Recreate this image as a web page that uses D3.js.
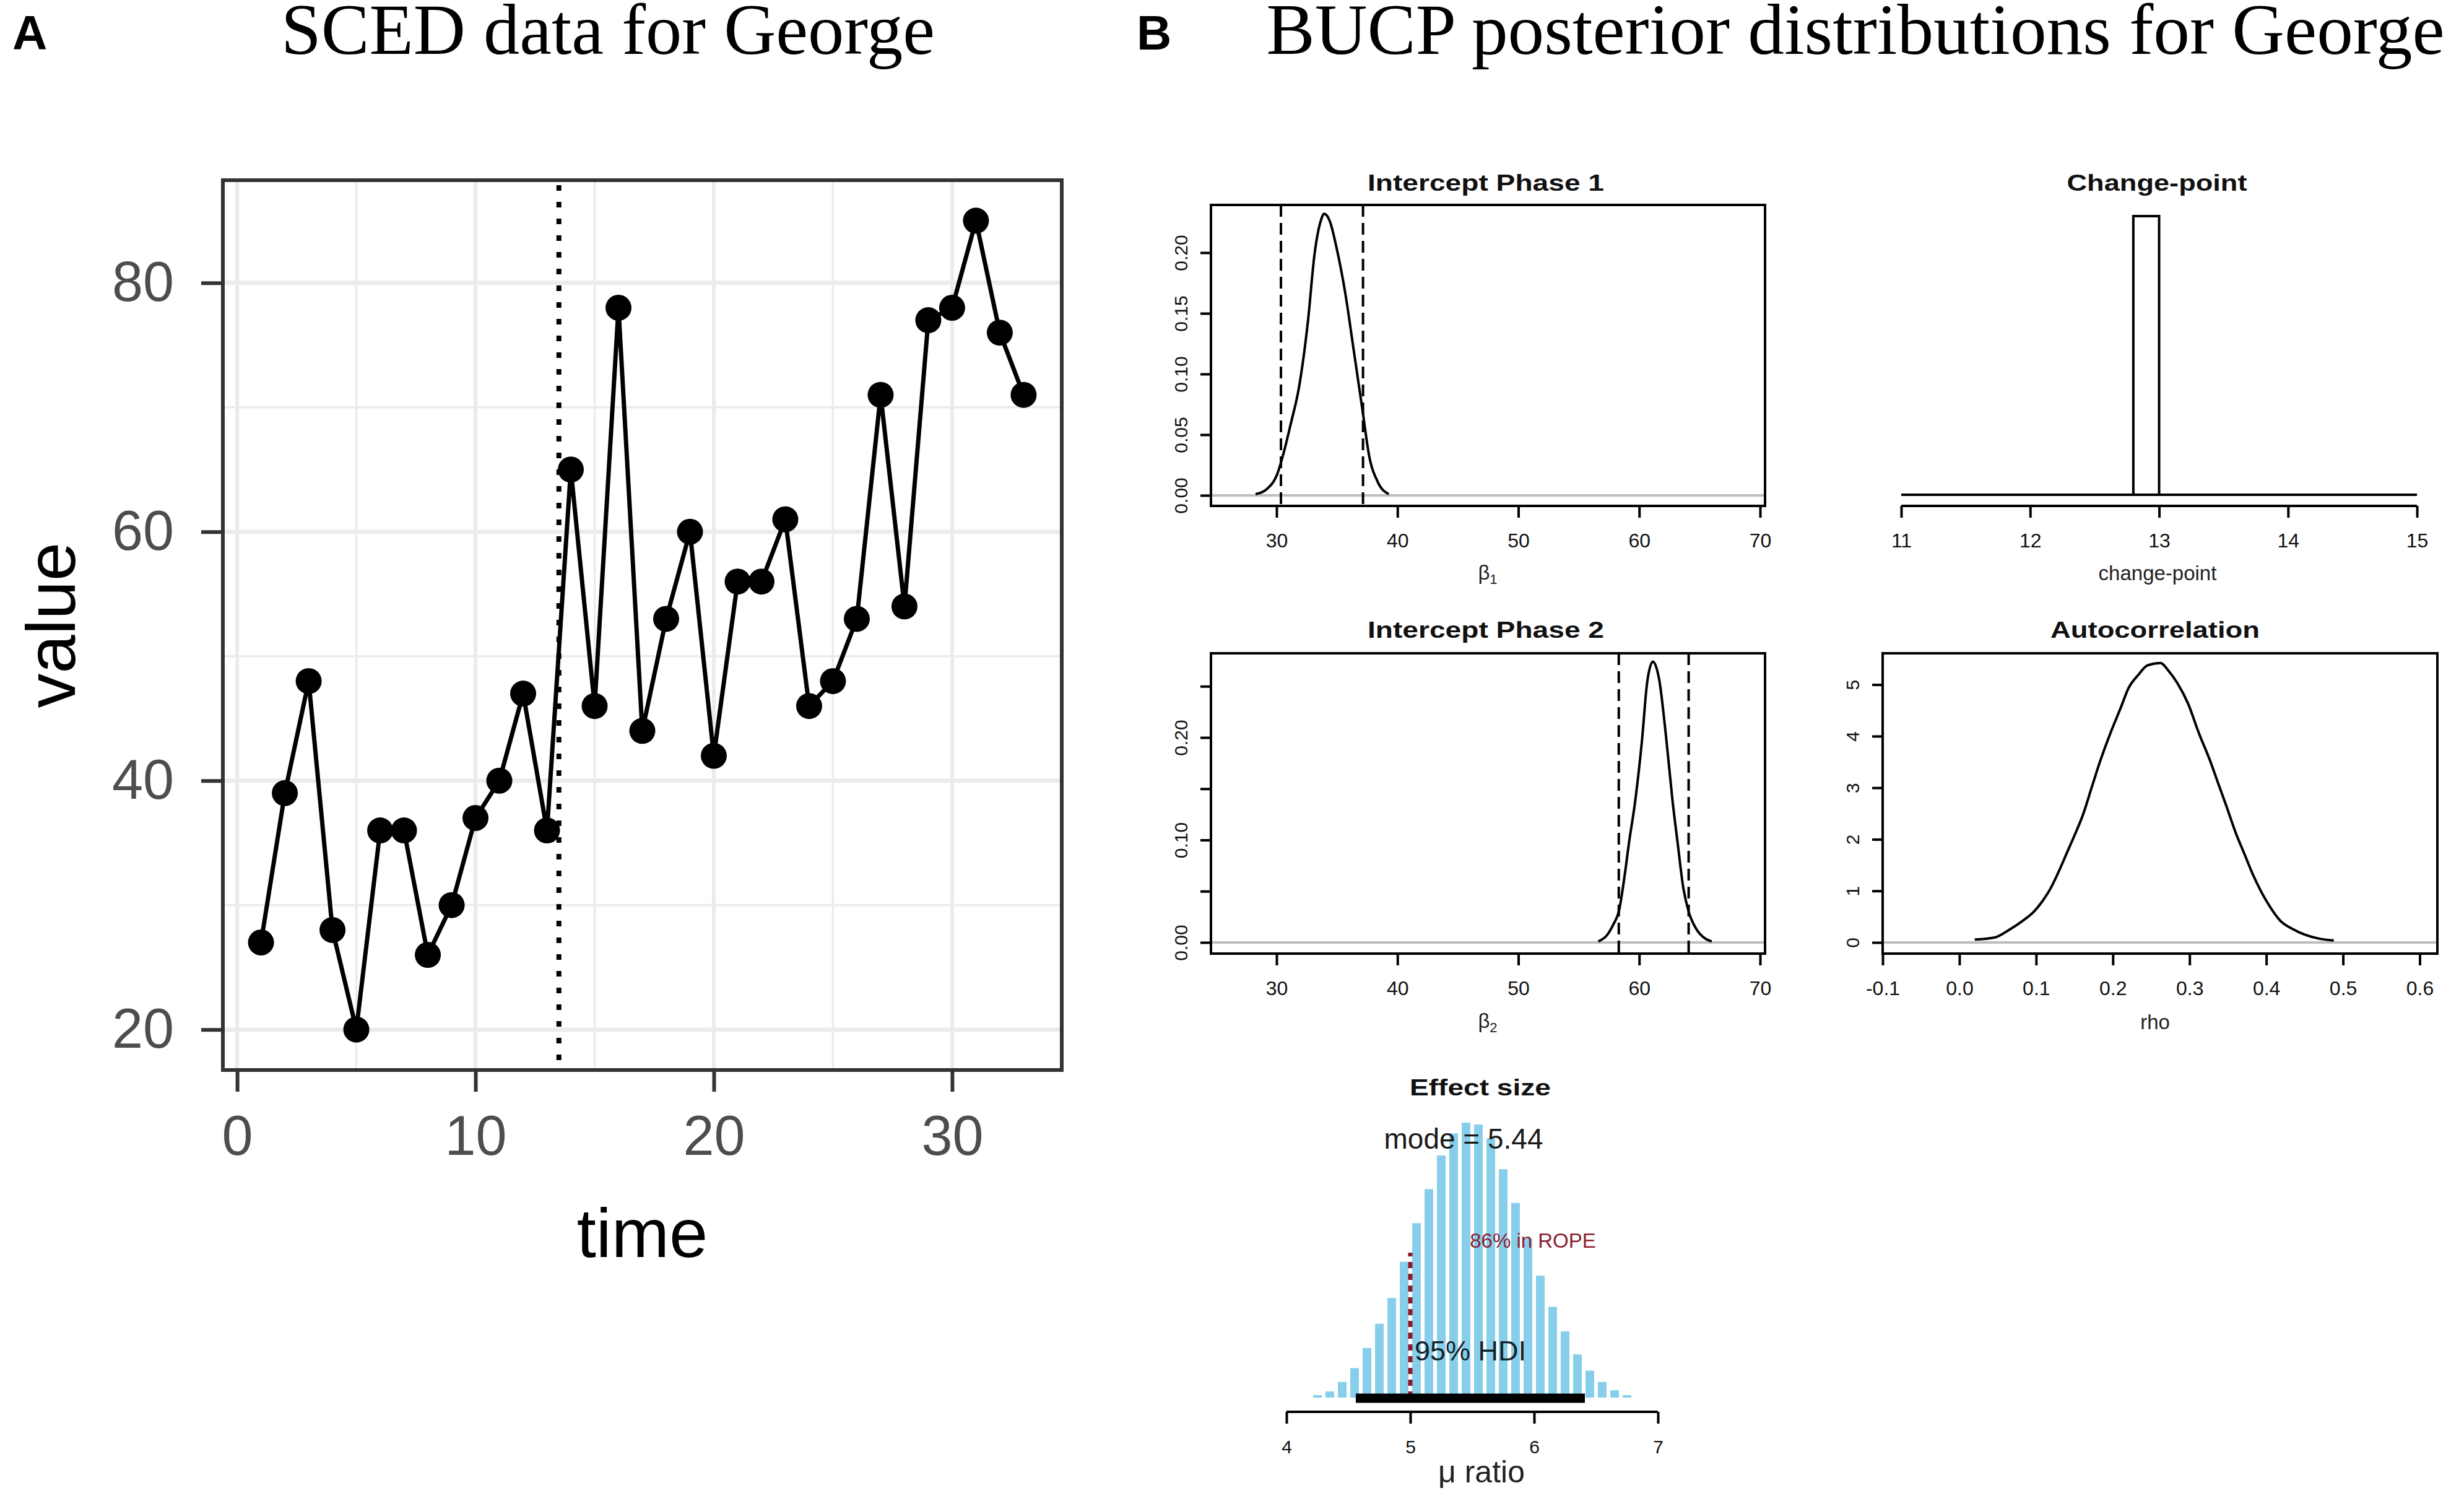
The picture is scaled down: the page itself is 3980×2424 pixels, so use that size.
<!DOCTYPE html>
<html>
<head>
<meta charset="utf-8">
<script src="https://cdn.jsdelivr.net/npm/d3@7"></script>
<style>
  html, body { margin: 0; padding: 0; background: #fff; }
  svg { display: block; }
</style>
</head>
<body>
<svg id="chart"></svg>
<script>
const width = 3980;
const height = 2424;

// ---- panel A: raw SCED series ----
const sessionTime = [1, 2, 3, 4, 5, 6, 7, 8, 9, 10, 11, 12, 13, 14, 15, 16, 17,
  18, 19, 20, 21, 22, 23, 24, 25, 26, 27, 28, 29, 30, 31, 32, 33];
const sessionValue = [27, 39, 48, 28, 20, 36, 36, 26, 30, 37, 40, 47, 36, 65, 46, 78, 44,
  53, 60, 42, 56, 56, 61, 46, 48, 53, 71, 54, 77, 78, 85, 76, 71];
const phaseChange = 13.5;
const timeTicks = [0, 10, 20, 30];
const timeMinorTicks = [5, 15, 25];
const valueTicks = [20, 40, 60, 80];
const valueMinorTicks = [30, 50, 70];

// ---- panel B: posterior densities ----
const phase1Density = [
  [28.26, 0.001], [29.17, 0.005], [30.07, 0.018], [30.61, 0.036], [31.15, 0.058],
  [31.87, 0.090], [32.60, 0.144], [33.13, 0.198], [33.68, 0.227], [33.93, 0.232],
  [34.40, 0.226], [34.94, 0.205], [35.66, 0.168], [36.39, 0.119], [37.11, 0.070],
  [37.65, 0.033], [38.37, 0.011], [39.28, 0.001]
];
const phase1Hdi = [30.36, 37.15];

const phase2Density = [
  [56.61, 0.001], [57.33, 0.007], [57.88, 0.018], [58.31, 0.030], [58.78, 0.064],
  [59.14, 0.096], [59.68, 0.139], [60.22, 0.196], [60.66, 0.254], [61.13, 0.274],
  [61.66, 0.256], [62.21, 0.202], [62.75, 0.139], [63.19, 0.096], [63.65, 0.053],
  [64.09, 0.030], [64.73, 0.013], [65.44, 0.004], [66.00, 0.001]
];
const phase2Hdi = [58.31, 64.09];

const rhoDensity = [
  [0.020, 0.057], [0.046, 0.097], [0.066, 0.256], [0.083, 0.426], [0.097, 0.597],
  [0.108, 0.796], [0.119, 1.052], [0.130, 1.393], [0.140, 1.734], [0.150, 2.075],
  [0.161, 2.473], [0.172, 2.985], [0.183, 3.496], [0.197, 4.065], [0.211, 4.577],
  [0.220, 4.918], [0.234, 5.202], [0.245, 5.372], [0.262, 5.418], [0.273, 5.259],
  [0.284, 5.031], [0.298, 4.633], [0.312, 4.065], [0.326, 3.553], [0.337, 3.098],
  [0.348, 2.644], [0.360, 2.132], [0.371, 1.734], [0.382, 1.336], [0.393, 0.995],
  [0.404, 0.711], [0.418, 0.426], [0.435, 0.256], [0.452, 0.142], [0.469, 0.074],
  [0.488, 0.040]
];

const changePointBins = [[12.8, 13.0, 1]];

const effectBinStart = [4.2, 4.3, 4.4, 4.5, 4.6, 4.7, 4.8, 4.9, 5.0, 5.1, 5.2, 5.3, 5.4,
  5.5, 5.6, 5.7, 5.8, 5.9, 6.0, 6.1, 6.2, 6.3, 6.4, 6.5, 6.6, 6.7];
const effectDensity = [0.008, 0.020, 0.051, 0.096, 0.162, 0.241, 0.325, 0.443, 0.569,
  0.680, 0.790, 0.862, 0.897, 0.891, 0.846, 0.745, 0.635, 0.519, 0.398, 0.296, 0.216,
  0.141, 0.088, 0.051, 0.024, 0.008];
const effectBinWidth = 0.1;
const effectHdi = [4.56, 6.41];
const ropeValue = 5;
const effectModeLabel = "mode = 5.44";
const ropeLabel = "86% in ROPE";

const interceptTicks = [30, 40, 50, 60, 70];
const phase1YTicks = [0, 0.05, 0.10, 0.15, 0.20];
const phase1YLabels = ["0.00", "0.05", "0.10", "0.15", "0.20"];
const phase2YTicks = [0, 0.05, 0.10, 0.15, 0.20, 0.25];
const phase2YLabels = ["0.00", "", "0.10", "", "0.20", ""];
const changePointTicks = [11, 12, 13, 14, 15];
const rhoTicks = [-0.1, 0, 0.1, 0.2, 0.3, 0.4, 0.5, 0.6];
const rhoTickLabels = ["-0.1", "0.0", "0.1", "0.2", "0.3", "0.4", "0.5", "0.6"];
const rhoYTicks = [0, 1, 2, 3, 4, 5];
const effectTicks = [4, 5, 6, 7];
const effectTickLabels = ["4", "5", "6", "7"];

const SANS = "'Liberation Sans', Arial, Helvetica, sans-serif";
const SERIF = "'Liberation Serif', 'Times New Roman', Times, serif";

const svg = d3.select("#chart")
  .attr("width", width)
  .attr("height", height)
  .attr("font-family", SANS);

svg.append("rect")
  .attr("width", width)
  .attr("height", height)
  .attr("fill", "#ffffff");

// panel letters and headings
svg.append("text")
  .attr("x", 20).attr("y", 80)
  .attr("font-size", 78).attr("font-weight", 700)
  .text("A");

svg.append("text")
  .attr("x", 1836).attr("y", 80)
  .attr("font-size", 78).attr("font-weight", 700)
  .text("B");

svg.append("text")
  .attr("x", 982).attr("y", 87)
  .attr("text-anchor", "middle")
  .attr("font-family", SERIF)
  .attr("font-size", 116)
  .attr("textLength", 1056)
  .attr("lengthAdjust", "spacingAndGlyphs")
  .text("SCED data for George");

svg.append("text")
  .attr("x", 2997).attr("y", 87)
  .attr("text-anchor", "middle")
  .attr("font-family", SERIF)
  .attr("font-size", 116)
  .attr("textLength", 1903)
  .attr("lengthAdjust", "spacingAndGlyphs")
  .text("BUCP posterior distributions for George");

// ================= panel A =================
function drawPanelA() {
  const box = { left: 360, right: 1715, top: 291, bottom: 1728 };

  const x = d3.scaleLinear().domain([-0.6, 34.6]).range([box.left, box.right]);
  const y = d3.scaleLinear().domain([16.75, 88.25]).range([box.bottom, box.top]);

  const g = svg.append("g").attr("class", "panel-a");

  // grid
  const grid = g.append("g").attr("class", "grid");
  grid.selectAll("line.vminor")
    .data(timeMinorTicks)
    .join("line")
    .attr("x1", d => x(d)).attr("x2", d => x(d))
    .attr("y1", box.top).attr("y2", box.bottom)
    .attr("stroke", "#ebebeb").attr("stroke-width", 3.5);
  grid.selectAll("line.hminor")
    .data(valueMinorTicks)
    .join("line")
    .attr("x1", box.left).attr("x2", box.right)
    .attr("y1", d => y(d)).attr("y2", d => y(d))
    .attr("stroke", "#ebebeb").attr("stroke-width", 3.5);
  grid.selectAll("line.vmajor")
    .data(timeTicks)
    .join("line")
    .attr("x1", d => x(d)).attr("x2", d => x(d))
    .attr("y1", box.top).attr("y2", box.bottom)
    .attr("stroke", "#ebebeb").attr("stroke-width", 6);
  grid.selectAll("line.hmajor")
    .data(valueTicks)
    .join("line")
    .attr("x1", box.left).attr("x2", box.right)
    .attr("y1", d => y(d)).attr("y2", d => y(d))
    .attr("stroke", "#ebebeb").attr("stroke-width", 7);

  // phase change
  g.append("line")
    .attr("x1", x(phaseChange)).attr("x2", x(phaseChange))
    .attr("y1", box.top + 8).attr("y2", box.bottom)
    .attr("stroke", "#000").attr("stroke-width", 8)
    .attr("stroke-dasharray", "9 18");

  const points = sessionTime.map((t, i) => [t, sessionValue[i]]);

  g.append("path")
    .datum(points)
    .attr("fill", "none")
    .attr("stroke", "#000")
    .attr("stroke-width", 7)
    .attr("stroke-linejoin", "round")
    .attr("d", d3.line().x(d => x(d[0])).y(d => y(d[1])));

  g.selectAll("circle.pt")
    .data(points)
    .join("circle")
    .attr("class", "pt")
    .attr("cx", d => x(d[0]))
    .attr("cy", d => y(d[1]))
    .attr("r", 21)
    .attr("fill", "#000");

  g.append("rect")
    .attr("x", box.left).attr("y", box.top)
    .attr("width", box.right - box.left)
    .attr("height", box.bottom - box.top)
    .attr("fill", "none")
    .attr("stroke", "#333333")
    .attr("stroke-width", 6);

  const xAxis = g.append("g")
    .attr("transform", `translate(0,${box.bottom + 3})`)
    .call(d3.axisBottom(x).tickValues(timeTicks).tickSize(32).tickPadding(38));
  const yAxis = g.append("g")
    .attr("transform", `translate(${box.left - 3},0)`)
    .call(d3.axisLeft(y).tickValues(valueTicks).tickSize(32).tickPadding(44));

  [xAxis, yAxis].forEach(function(a) {
    a.attr("font-family", SANS);
    a.select(".domain").remove();
    a.selectAll(".tick line").attr("stroke", "#333333").attr("stroke-width", 6);
    a.selectAll(".tick text")
      .attr("fill", "#4d4d4d")
      .attr("font-size", 90);
  });

  g.append("text")
    .attr("x", (box.left + box.right) / 2)
    .attr("y", 2030)
    .attr("text-anchor", "middle")
    .attr("font-size", 112)
    .text("time");

  g.append("text")
    .attr("transform", `translate(121,${(box.top + box.bottom) / 2}) rotate(-90)`)
    .attr("text-anchor", "middle")
    .attr("font-size", 112)
    .text("value");
}

// ================= panel B helpers =================
function styleRAxis(a, fontSize) {
  a.attr("font-family", SANS);
  a.select(".domain").remove();
  a.selectAll(".tick line").attr("stroke", "#000").attr("stroke-width", 4);
  a.selectAll(".tick text")
    .attr("fill", "#111")
    .attr("font-size", fontSize);
}

function panelTitle(cx, baseline, label, len) {
  svg.append("text")
    .attr("x", cx).attr("y", baseline)
    .attr("text-anchor", "middle")
    .attr("font-size", 37)
    .attr("font-weight", 700)
    .attr("fill", "#111")
    .attr("textLength", len)
    .attr("lengthAdjust", "spacingAndGlyphs")
    .text(label);
}

function axisLabel(cx, baseline, main, sub) {
  const t = svg.append("text")
    .attr("x", cx).attr("y", baseline)
    .attr("text-anchor", "middle")
    .attr("font-size", 33)
    .attr("fill", "#222");
  t.append("tspan").text(main);
  if (sub) {
    t.append("tspan")
      .attr("font-size", 22)
      .attr("dy", 7)
      .text(sub);
  }
}

function drawXAxis(g, x, box, ticks, labels, lineToo) {
  const ax = g.append("g")
    .attr("transform", `translate(0,${box.bottom})`)
    .call(d3.axisBottom(x)
      .tickValues(ticks)
      .tickFormat((d, i) => labels ? labels[i] : d)
      .tickSize(19)
      .tickPadding(25));
  styleRAxis(ax, 32);
  if (lineToo) {
    g.append("line")
      .attr("x1", x(ticks[0])).attr("x2", x(ticks[ticks.length - 1]))
      .attr("y1", box.bottom).attr("y2", box.bottom)
      .attr("stroke", "#000").attr("stroke-width", 4);
  }
}

function drawYAxis(g, y, box, ticks, labels) {
  const ax = g.append("g")
    .attr("transform", `translate(${box.left},0)`)
    .call(d3.axisLeft(y)
      .tickValues(ticks)
      .tickFormat((d, i) => labels ? labels[i] : d)
      .tickSize(17));
  styleRAxis(ax, 30);
  ax.selectAll(".tick text")
    .attr("x", null).attr("dy", null)
    .attr("text-anchor", "middle")
    .attr("transform", "translate(-38,0) rotate(-90)");
}

function drawDensityPanel(opt) {
  const box = opt.box;
  const x = d3.scaleLinear().domain(opt.xDomain).range([box.left, box.right]);
  const y = d3.scaleLinear().domain(opt.yDomain).range([box.bottom, box.top]);
  const g = svg.append("g");

  g.append("line")
    .attr("x1", box.left).attr("x2", box.right)
    .attr("y1", y(0)).attr("y2", y(0))
    .attr("stroke", "#bebebe").attr("stroke-width", 4);

  g.append("path")
    .datum(opt.curve)
    .attr("fill", "none")
    .attr("stroke", "#000")
    .attr("stroke-width", 4)
    .attr("d", d3.line()
      .curve(d3.curveMonotoneX)
      .x(d => x(d[0]))
      .y(d => y(d[1])));

  if (opt.hdi) {
    g.selectAll("line.hdi")
      .data(opt.hdi)
      .join("line")
      .attr("class", "hdi")
      .attr("x1", d => x(d)).attr("x2", d => x(d))
      .attr("y1", box.top).attr("y2", box.bottom)
      .attr("stroke", "#000").attr("stroke-width", 4)
      .attr("stroke-dasharray", "19 10");
  }

  g.append("rect")
    .attr("x", box.left).attr("y", box.top)
    .attr("width", box.right - box.left)
    .attr("height", box.bottom - box.top)
    .attr("fill", "none")
    .attr("stroke", "#000")
    .attr("stroke-width", 4);

  drawXAxis(g, x, box, opt.xTicks, opt.xLabels, false);
  drawYAxis(g, y, box, opt.yTicks, opt.yLabels);
}

// ================= panel B =================
function drawPanelB() {
  const left = { left: 1956, right: 2851 };
  const right = { left: 3041, right: 3937 };
  const row1 = { top: 331, bottom: 817 };
  const row2 = { top: 1055, bottom: 1540 };

  // Intercept phase 1
  drawDensityPanel({
    box: { ...left, ...row1 },
    xDomain: [24.57, 70.41],
    yDomain: [-0.0087, 0.2393],
    curve: phase1Density,
    hdi: phase1Hdi,
    xTicks: interceptTicks,
    yTicks: phase1YTicks,
    yLabels: phase1YLabels
  });
  panelTitle(2400, 308, "Intercept Phase 1", 382);
  axisLabel(2403, 936, "\u03b2", "1");

  // Change-point histogram (no box, no y axis)
  {
    const box = { ...right, ...row1 };
    const x = d3.scaleLinear().domain([10.856, 15.158]).range([box.left, box.right]);
    const y = d3.scaleLinear().domain([-0.04, 1.04]).range([box.bottom, box.top]);
    const g = svg.append("g");

    g.append("line")
      .attr("x1", x(changePointTicks[0]))
      .attr("x2", x(changePointTicks[changePointTicks.length - 1]))
      .attr("y1", y(0)).attr("y2", y(0))
      .attr("stroke", "#000").attr("stroke-width", 4);

    g.selectAll("rect.bin")
      .data(changePointBins)
      .join("rect")
      .attr("class", "bin")
      .attr("x", d => x(d[0]))
      .attr("width", d => x(d[1]) - x(d[0]))
      .attr("y", d => y(d[2]))
      .attr("height", d => y(0) - y(d[2]))
      .attr("fill", "#fff")
      .attr("stroke", "#000")
      .attr("stroke-width", 4);

    drawXAxis(g, x, box, changePointTicks, null, true);
    panelTitle(3484, 308, "Change-point", 291);
    axisLabel(3485, 937, "change-point");
  }

  // Intercept phase 2
  drawDensityPanel({
    box: { ...left, ...row2 },
    xDomain: [24.57, 70.41],
    yDomain: [-0.0109, 0.2822],
    curve: phase2Density,
    hdi: phase2Hdi,
    xTicks: interceptTicks,
    yTicks: phase2YTicks,
    yLabels: phase2YLabels
  });
  panelTitle(2400, 1030, "Intercept Phase 2", 382);
  axisLabel(2403, 1660, "\u03b2", "2");

  // Autocorrelation
  drawDensityPanel({
    box: { ...right, ...row2 },
    xDomain: [-0.1, 0.623],
    yDomain: [-0.216, 5.607],
    curve: rhoDensity,
    hdi: null,
    xTicks: rhoTicks,
    xLabels: rhoTickLabels,
    yTicks: rhoYTicks
  });
  panelTitle(3481, 1030, "Autocorrelation", 338);
  axisLabel(3481, 1662, "rho");

  // Effect size histogram
  {
    const x = d3.scaleLinear().domain([4, 7]).range([2078, 2678]);
    const y = d3.scaleLinear().domain([0, 0.897]).range([2257, 1813]);
    const g = svg.append("g");

    g.selectAll("rect.bar")
      .data(effectBinStart.map((b, i) => [b, effectDensity[i]]))
      .join("rect")
      .attr("class", "bar")
      .attr("x", d => x(d[0]) + 3)
      .attr("width", d => x(d[0] + effectBinWidth) - x(d[0]) - 6)
      .attr("y", d => y(d[1]))
      .attr("height", d => y(0) - y(d[1]))
      .attr("fill", "#87ceeb");

    g.append("line")
      .attr("x1", x(ropeValue)).attr("x2", x(ropeValue))
      .attr("y1", y(0)).attr("y2", 2023)
      .attr("stroke", "#8b1a2b").attr("stroke-width", 7)
      .attr("stroke-dasharray", "10 9");

    g.append("line")
      .attr("x1", x(effectHdi[0])).attr("x2", x(effectHdi[1]))
      .attr("y1", y(0) + 1).attr("y2", y(0) + 1)
      .attr("stroke", "#000").attr("stroke-width", 15);

    g.append("text")
      .attr("x", 2364).attr("y", 1855)
      .attr("text-anchor", "middle")
      .attr("font-size", 46)
      .attr("fill", "#1a1a1a")
      .text(effectModeLabel);

    g.append("text")
      .attr("x", 2476).attr("y", 2015)
      .attr("text-anchor", "middle")
      .attr("font-size", 33)
      .attr("fill", "#8b2232")
      .text(ropeLabel);

    g.append("text")
      .attr("x", (x(effectHdi[0]) + x(effectHdi[1])) / 2).attr("y", 2197)
      .attr("text-anchor", "middle")
      .attr("font-size", 45)
      .attr("fill", "#14222c")
      .text("95% HDI");

    const ax = g.append("g")
      .attr("transform", "translate(0,2280)")
      .call(d3.axisBottom(x)
        .tickValues(effectTicks)
        .tickFormat((d, i) => effectTickLabels[i])
        .tickSize(19)
        .tickPadding(27));
    styleRAxis(ax, 30);
    g.append("line")
      .attr("x1", x(effectTicks[0])).attr("x2", x(effectTicks[effectTicks.length - 1]))
      .attr("y1", 2280).attr("y2", 2280)
      .attr("stroke", "#000").attr("stroke-width", 4);

    panelTitle(2391, 1769, "Effect size", 228);

    svg.append("text")
      .attr("x", 2393).attr("y", 2394)
      .attr("text-anchor", "middle")
      .attr("font-size", 50)
      .attr("fill", "#222")
      .text("\u03bc ratio");
  }
}

drawPanelA();
drawPanelB();
</script>
</body>
</html>
